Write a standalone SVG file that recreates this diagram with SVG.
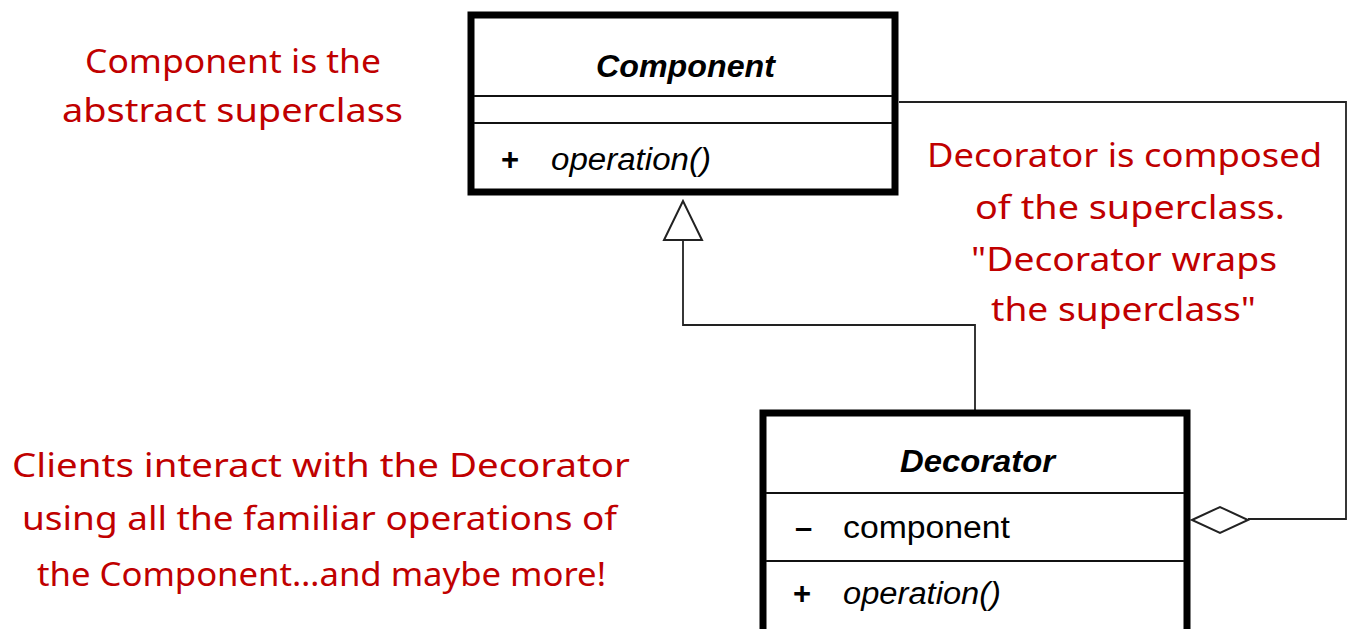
<svg xmlns="http://www.w3.org/2000/svg" width="1349" height="629" viewBox="0 0 1349 629">
<style>
.box{fill:#fff;stroke:#000;stroke-width:7}
.div{stroke:#111;stroke-width:2}
.uml{font-family:"Liberation Sans",Arial,sans-serif;fill:#000}
.title{font-size:31px;font-weight:bold;font-style:italic}
.mem{font-size:31px}
.sym{font-size:31px;font-weight:bold}
.ital{font-style:italic}
.note{font-family:"Noto Sans","DejaVu Sans",sans-serif;font-size:33px;fill:#C00000}
.conn{fill:none;stroke:#222;stroke-width:1.8}
.head{fill:#fff;stroke:#222;stroke-width:2}
</style>
<rect width="1349" height="629" fill="#fff"/>
<g id="connectors">
<path class="conn" d="M683,240 V325 H975 V410"/>
<polygon class="head" points="683,201 664,240 702,240"/>
<path class="conn" d="M899,102 H1346 V519 H1248"/>
<polygon class="head" points="1192,520 1220,507 1248,520 1220,533"/>
</g>
<g id="component">
<rect class="box" x="471" y="15" width="424" height="177"/>
<line class="div" x1="474" y1="96" x2="892" y2="96"/>
<line class="div" x1="474" y1="123" x2="892" y2="123"/>
<text class="uml title" x="596" y="77" textLength="179" lengthAdjust="spacingAndGlyphs">Component</text>
<text class="uml sym" x="501" y="170">+</text>
<text class="uml mem ital" x="551" y="170" textLength="160" lengthAdjust="spacingAndGlyphs">operation()</text>
</g>
<g id="decorator">
<rect class="box" x="763" y="413" width="424" height="240"/>
<line class="div" x1="766" y1="493" x2="1184" y2="493"/>
<line class="div" x1="766" y1="561" x2="1184" y2="561"/>
<text class="uml title" x="900" y="472" textLength="155" lengthAdjust="spacingAndGlyphs">Decorator</text>
<text class="uml sym" x="795" y="538">–</text>
<text class="uml mem" x="843" y="538" textLength="167" lengthAdjust="spacingAndGlyphs">component</text>
<text class="uml sym" x="793" y="604">+</text>
<text class="uml mem ital" x="843" y="604" textLength="158" lengthAdjust="spacingAndGlyphs">operation()</text>
</g>
<g id="note-component">
<text class="note" x="85" y="73" textLength="296" lengthAdjust="spacingAndGlyphs">Component is the</text>
<text class="note" x="62" y="122" textLength="341" lengthAdjust="spacingAndGlyphs">abstract superclass</text>
</g>
<g id="note-decorator">
<text class="note" x="927" y="167" textLength="395" lengthAdjust="spacingAndGlyphs">Decorator is composed</text>
<text class="note" x="975" y="219" textLength="310" lengthAdjust="spacingAndGlyphs">of the superclass.</text>
<text class="note" x="971" y="271" textLength="306" lengthAdjust="spacingAndGlyphs">"Decorator wraps</text>
<text class="note" x="991" y="321" textLength="265" lengthAdjust="spacingAndGlyphs">the superclass"</text>
</g>
<g id="note-clients">
<text class="note" x="12" y="477" textLength="618" lengthAdjust="spacingAndGlyphs">Clients interact with the Decorator</text>
<text class="note" x="22" y="530" textLength="595" lengthAdjust="spacingAndGlyphs">using all the familiar operations of</text>
<text class="note" x="37" y="586" textLength="569" lengthAdjust="spacingAndGlyphs">the Component…and maybe more!</text>
</g>
</svg>
